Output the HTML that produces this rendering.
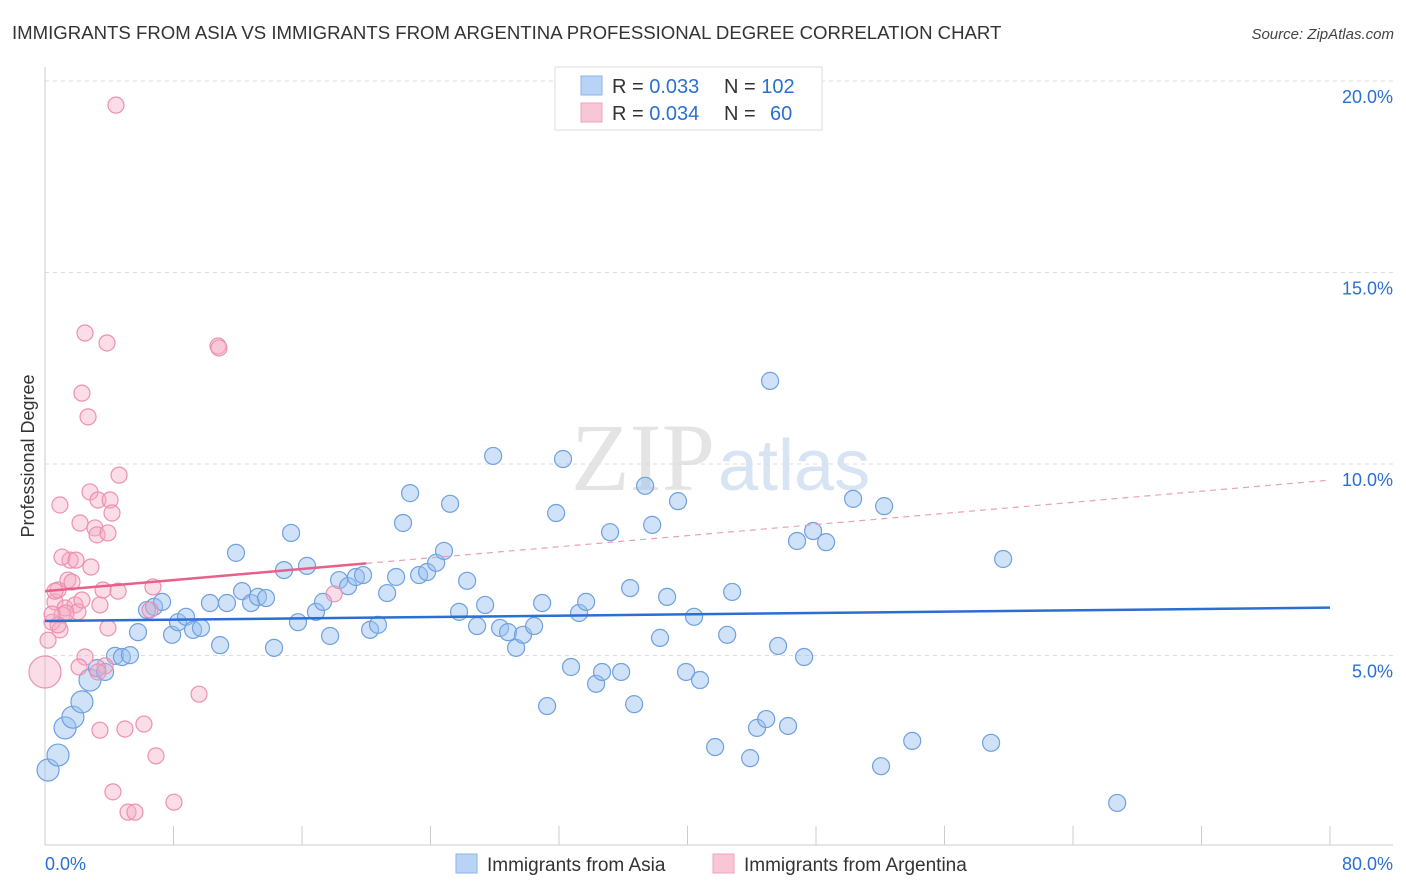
<!DOCTYPE html>
<html><head><meta charset="utf-8"><style>
body{margin:0;background:#fff;font-family:"Liberation Sans",sans-serif;}
svg{display:block}
</style></head><body>
<svg id="c" width="1406" height="892">
<text x="12" y="39" font-size="18.6" fill="#333">IMMIGRANTS FROM ASIA VS IMMIGRANTS FROM ARGENTINA PROFESSIONAL DEGREE CORRELATION CHART</text>
<text x="1394" y="39" font-size="15" fill="#444" font-style="italic" text-anchor="end">Source: ZipAtlas.com</text>
<text x="34" y="456" font-size="18" fill="#333" transform="rotate(-90 34 456)" text-anchor="middle">Professional Degree</text>
<text x="715" y="490" font-size="96" fill="#e4e4e4" font-family="Liberation Serif,serif" text-anchor="end">ZIP</text>
<text x="718" y="490" font-size="72" fill="#d6e4f4">atlas</text>
<g id="grid"></g><g id="pts"></g><g id="lines"></g>
<g>
<rect x="555" y="67" width="267" height="63" fill="#fff" stroke="#ddd"/>
<rect x="581" y="76" width="21" height="19" fill="#b8d3f5" stroke="#8ab4ea"/>
<rect x="581" y="103" width="21" height="19" fill="#f9c6d6" stroke="#f0a2bd"/>
<text x="612" y="93" font-size="20" fill="#333">R = <tspan fill="#2a6fd4">0.033</tspan><tspan x="724">N = </tspan><tspan fill="#2a6fd4">102</tspan></text>
<text x="612" y="120" font-size="20" fill="#333">R = <tspan fill="#2a6fd4">0.034</tspan><tspan x="724">N = </tspan><tspan fill="#2a6fd4" x="770">60</tspan></text>
</g>
<g>
<rect x="456" y="854" width="21" height="19" fill="#b8d3f5" stroke="#8ab4ea"/>
<text x="487" y="871" font-size="19" fill="#333">Immigrants from Asia</text>
<rect x="713" y="854" width="21" height="19" fill="#f9c6d6" stroke="#f0a2bd"/>
<text x="744" y="871" font-size="19" fill="#333">Immigrants from Argentina</text>
</g>
</svg>
<script>
const blueX=[0.19,0.81,1.25,1.74,2.30,2.80,3.24,3.74,4.36,4.79,5.29,5.79,6.35,6.79,7.29,7.91,8.28,8.78,9.22,9.71,10.27,10.90,11.33,11.89,12.27,12.83,13.26,13.76,14.26,14.88,15.32,15.75,16.31,16.87,17.31,17.75,18.31,18.87,19.36,19.80,20.24,20.73,21.30,21.86,22.29,22.73,23.29,23.79,24.35,24.84,25.22,25.78,26.28,26.90,27.40,27.90,28.33,28.83,29.33,29.76,30.45,30.95,31.26,31.82,32.25,32.75,33.25,33.69,34.31,34.68,35.18,35.87,36.43,36.68,37.36,37.80,38.29,38.73,39.41,39.91,40.41,40.78,41.72,42.47,42.78,43.90,44.33,44.90,45.14,45.64,46.26,46.82,47.26,47.82,48.63,50.31,52.05,52.24,53.99,58.90,59.65,66.75];
const blueY=[2.01,2.40,3.11,3.39,3.79,4.36,4.67,4.57,4.99,4.96,5.01,5.61,6.19,6.27,6.40,5.54,5.87,6.01,5.67,5.72,6.37,5.27,6.37,7.68,6.68,6.37,6.53,6.50,5.20,7.23,8.20,5.87,7.34,6.14,6.40,5.51,6.97,6.81,7.05,7.10,5.67,5.80,6.63,7.05,8.46,9.24,7.10,7.18,7.42,7.73,8.96,6.14,6.95,5.77,6.32,10.21,5.72,5.61,5.20,5.54,5.77,6.37,3.68,8.72,10.13,4.70,6.11,6.40,4.26,4.57,8.22,4.57,6.76,3.73,9.43,8.41,5.46,6.53,9.03,4.57,6.01,4.36,2.61,5.54,6.66,2.32,3.11,3.34,12.17,5.25,3.16,7.99,4.96,8.25,7.96,9.09,2.11,8.90,2.77,2.72,7.52,1.15];
const pinkX=[0,0.19,0.44,0.62,0.81,0.93,1.06,1.25,1.43,1.56,1.68,1.87,2.05,2.18,2.30,2.49,2.49,2.68,2.80,2.86,3.11,3.24,3.30,3.42,3.42,3.61,3.74,3.86,3.92,4.05,4.17,4.23,4.42,4.55,4.61,4.98,5.17,5.60,6.16,6.54,6.72,6.91,8.03,9.59,10.77,10.83,18.00,2.30,0.93,1.06,3.30,2.12,1.31,0.81,0.44,0.62,1.93,3.92];
const pinkY=[4.57,5.40,5.87,6.40,6.71,5.67,6.06,6.24,6.97,7.49,6.92,6.32,6.14,8.46,6.45,13.42,4.96,11.23,9.27,7.31,8.33,8.15,9.06,6.32,3.05,6.71,4.73,13.16,5.72,9.06,8.72,1.44,19.37,6.68,9.71,3.08,0.91,0.91,3.21,6.19,6.79,2.38,1.17,3.99,13.08,13.03,6.61,11.85,8.93,7.57,4.57,4.70,6.11,5.80,6.08,6.68,7.49,8.20];
const blueTrend=[5.9,6.25];
const pinkTrend=[6.68,9.58];
const pinkSolidEnd=20;
const yTicks=[5,10,15,20];
const xTickLabels=["0.0%","80.0%"];
const NS="http://www.w3.org/2000/svg";
const X0=45,X1=1330,Y0=847,PY=38.3;
const sx=v=>X0+v*(X1-X0)/80, sy=v=>Y0-v*PY;
function mk(t,a,p){const e=document.createElementNS(NS,t);for(const k in a)e.setAttribute(k,a[k]);p.appendChild(e);return e;}
const g=document.getElementById('grid');
yTicks.forEach(v=>{
 const l=mk('line',{x1:X0,x2:1393,y1:sy(v),y2:sy(v),stroke:'#ddd','stroke-dasharray':'4,4'},g);
 
 
 const t=mk('text',{x:1393,y:sy(v)+22,'font-size':18,fill:'#2a6fd4','text-anchor':'end'},g);
 t.textContent=v.toFixed(1)+'%';
 
 
});
const ax=mk('line',{x1:X0,x2:1393,y1:845,y2:845,stroke:'#ccc'},g);


const ay=mk('line',{x1:X0,x2:X0,y1:67,y2:845,stroke:'#ccc'},g);


for(let i=1;i<=10;i++){const tk=mk('line',{x1:sx(i*8),x2:sx(i*8),y1:826,y2:845,stroke:'#ccc'},g);
 
 }
const t0=mk('text',{x:45,y:870,'font-size':18,fill:'#2a6fd4'},g);t0.textContent=xTickLabels[0];


const t1=mk('text',{x:1393,y:870,'font-size':18,fill:'#2a6fd4','text-anchor':'end'},g);t1.textContent=xTickLabels[1];


const P=document.getElementById('pts');
blueX.forEach((x,i)=>{const c=mk('circle',{cx:sx(x),cy:sy(blueY[i]),r:x<3?11:8.5,fill:'rgba(150,190,240,0.45)',stroke:'#6fa0e0','stroke-width':1.2},P);
 
 });
pinkX.forEach((x,i)=>{const c=mk('circle',{cx:sx(x),cy:sy(pinkY[i]),r:i==0?16:8,fill:'rgba(244,170,196,0.4)',stroke:'#ee90b0','stroke-width':1.2},P);
 
 });
const L=document.getElementById('lines');
const pv=x=>pinkTrend[0]+(pinkTrend[1]-pinkTrend[0])*x/80;
const bl=mk('line',{x1:sx(0),y1:sy(blueTrend[0]),x2:sx(80),y2:sy(blueTrend[1]),stroke:'#2a6fd4','stroke-width':2.5},L);


const ps=mk('line',{x1:sx(0),y1:sy(pv(0)),x2:sx(pinkSolidEnd),y2:sy(pv(pinkSolidEnd)),stroke:'#e8608a','stroke-width':2.5},L);


const pd=mk('line',{x1:sx(pinkSolidEnd),y1:sy(pv(pinkSolidEnd)),x2:sx(80),y2:sy(pv(80)),stroke:'#e8a0b8','stroke-width':1.2,'stroke-dasharray':'6,5'},L);


</script>
</body></html>
